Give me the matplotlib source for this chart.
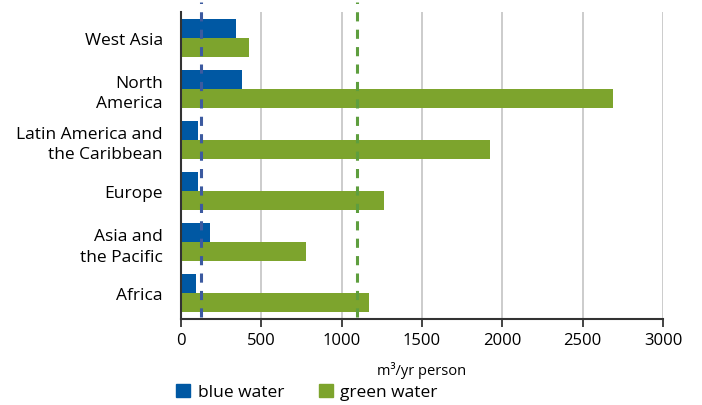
import numpy as np
import matplotlib.pyplot as plt
from matplotlib.patches import Patch

plt.rcParams['font.family'] = ['Open Sans', 'DejaVu Sans']

regions = ['West Asia', 'North\nAmerica', 'Latin America and\nthe Caribbean',
           'Europe', 'Asia and\nthe Pacific', 'Africa']
blue_water = [342, 380, 106, 106, 180, 93]
green_water = [423, 2690, 1923, 1263, 778, 1170]
blue_ref = 124
green_ref = 1095

c_blue = '#0058a3'
c_green = '#7da42d'

fig = plt.figure(figsize=(7.02, 4.06), dpi=100)
ax = fig.add_axes([0.2578, 0.2118, 0.6866, 0.7562])

y = np.arange(len(regions))
h = 0.37
ax.barh(y - h / 2, blue_water, height=h, color=c_blue, zorder=2)
ax.barh(y + h / 2, green_water, height=h, color=c_green, zorder=2)

# reference lines, drawn a little above the plot area
for x, c in [(blue_ref, '#3c5aa0'), (green_ref, '#5e9e3e')]:
    ax.axvline(x, ymin=0.005, ymax=1.032, color=c, lw=2.2, dashes=(3, 2.7),
               clip_on=False, zorder=3)

ax.set_ylim(len(regions) - 0.5, -0.5)
ax.set_xlim(0, 3000)
ax.set_xticks(np.arange(0, 3001, 500))
ax.set_yticks(y)
ax.set_yticklabels(regions, fontsize=12.5, ha='right', linespacing=1.38)
ax.tick_params(axis='y', length=0, pad=13)
ax.tick_params(axis='x', length=6, width=1.2, labelsize=12, color='#222222')
ax.xaxis.grid(True, color='#c8c8c8', lw=1.3, zorder=0)
ax.set_axisbelow(True)
for s in ['top', 'right']:
    ax.spines[s].set_visible(False)
for s in ['left', 'bottom']:
    ax.spines[s].set_color('#333333')
    ax.spines[s].set_linewidth(1.5)
ax.set_xlabel('m³/yr person', fontsize=10.5, labelpad=9)

handles = [Patch(color=c_blue, label='blue water'), Patch(color=c_green, label='green water')]
fig.legend(handles=handles, loc='center left', bbox_to_anchor=(176 / 702, 1 - 393 / 406),
           ncol=2, frameon=False, fontsize=12.5, handlelength=0.8, handleheight=0.8,
           handletextpad=0.45, columnspacing=2.0, borderpad=0, borderaxespad=0)

fig.savefig('out.png', dpi=100)
